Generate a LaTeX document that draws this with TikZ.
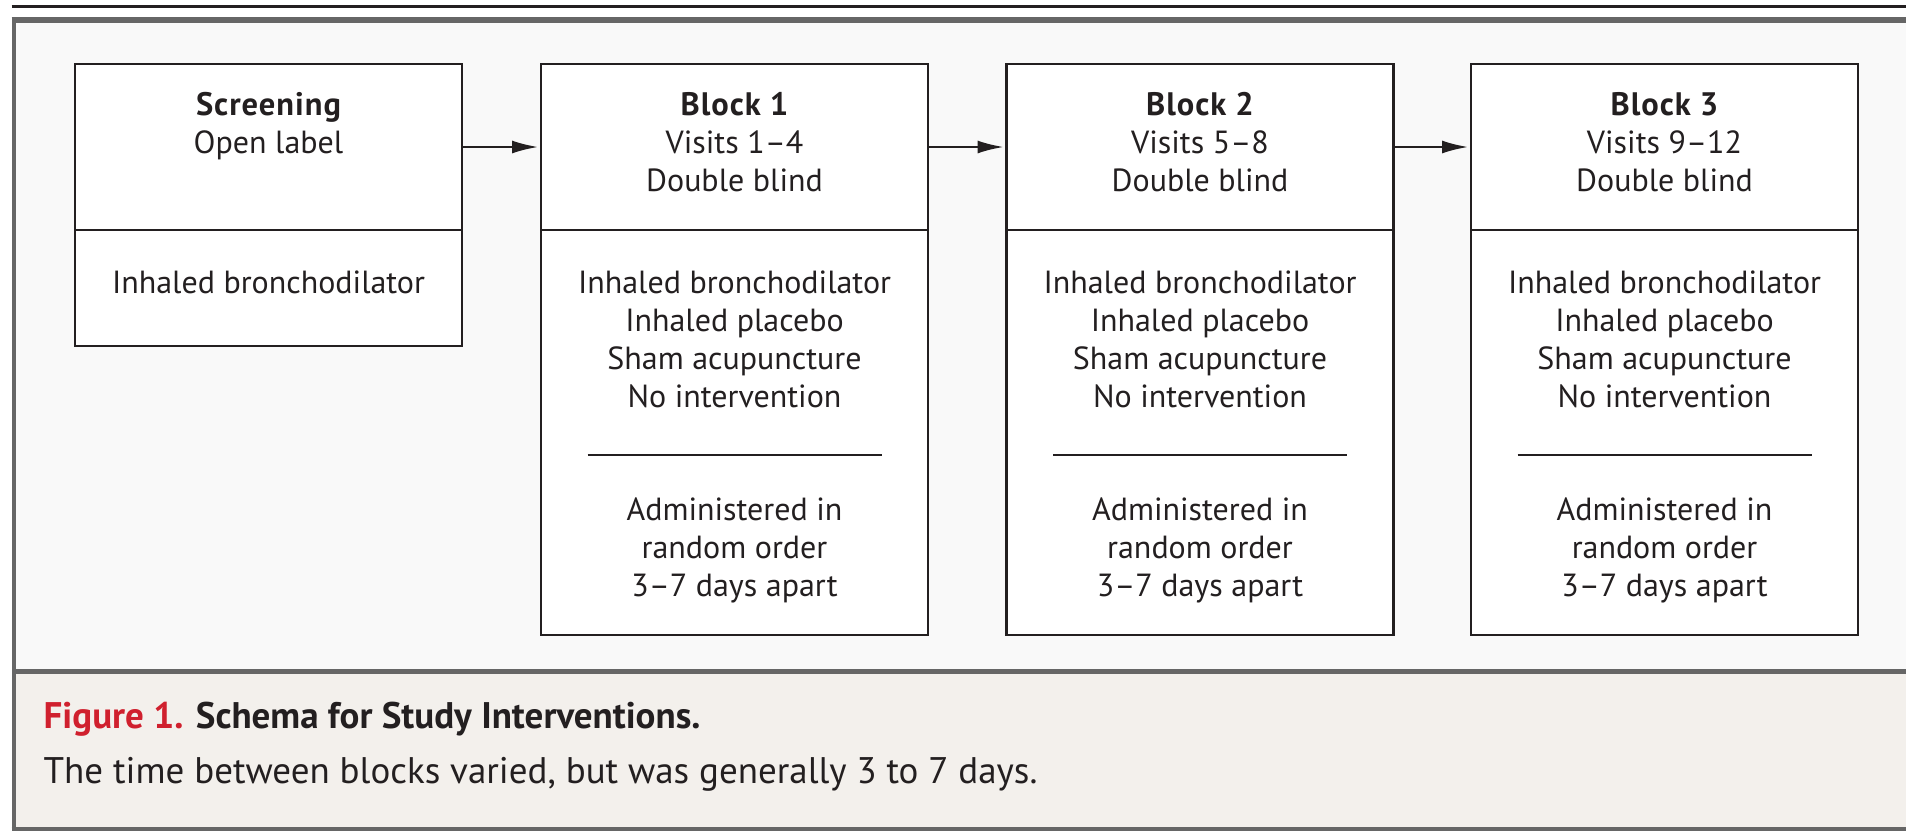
\documentclass[tikz,border=0pt]{standalone}
\usepackage{fontspec}
\setmainfont{PT Sans}
\usetikzlibrary{arrows.meta}
\definecolor{framegray}{HTML}{666666}
\definecolor{innerbg}{HTML}{F9F9F9}
\definecolor{capbg}{HTML}{F3F0EC}
\definecolor{txt}{HTML}{231F20}
\definecolor{nejmred}{HTML}{D0202E}
\begin{document}
\begin{tikzpicture}[x=1pt,y=-1pt,
  box/.style={draw=txt, line width=2.7pt, fill=white, minimum width=387pt,
    inner sep=0pt, outer sep=0pt, anchor=north west},
  boxline/.style={font=\fontsize{32}{38}\selectfont, text=txt, anchor=base, inner sep=0pt},
  titleline/.style={boxline, font=\fontsize{32.5}{38}\selectfont\bfseries\addfontfeature{LetterSpace=3}},
  sepline/.style={draw=txt, line width=2.7pt},
  flow/.style={draw=txt, line width=2pt, shorten >=3pt, -{Latex[length=26pt,width=13pt]}},
  frameline/.style={draw=framegray},
  capline/.style={font=\fontsize{37}{42}\selectfont, text=txt, anchor=base west, inner sep=0pt}]
\useasboundingbox (0,0) rectangle (1906,835);
% frame and backgrounds
\fill[innerbg] (14,20) rectangle (1906,671.5);
\fill[capbg] (14,671.5) rectangle (1906,829);
\draw[txt, line width=2.7pt] (11.7,6.7) -- (1906,6.7);
\draw[frameline, line width=5.3pt] (11.7,20) -- (1906,20);
\draw[frameline, line width=4.5pt] (14,671.5) -- (1906,671.5);
\draw[frameline, line width=4.3pt] (11.7,829) -- (1906,829);
\draw[frameline, line width=4.3pt] (14,17.3) -- (14,831.2);
% screening box
\node[box, minimum height=116pt] (scrBot) at (75,230) {};
\node[box, minimum height=166pt] (scrTop) at (75,64) {};
\node[titleline] (scrT1) at (268.5,115) {Screening};
\node[boxline] (scrT2) at (268.5,153) {Open label};
\node[boxline] (scrB1) at (268.5,293) {Inhaled bronchodilator};
% blocks
\foreach \n/\lx/\vis in {1/541/Visits 1--4, 2/1006.5/Visits 5--8, 3/1471/Visits 9--12}{
  \pgfmathsetmacro{\cx}{\lx+193.5}
  \node[box, minimum height=405pt] (b\n Bot) at (\lx,230) {};
  \node[box, minimum height=166pt] (b\n Top) at (\lx,64) {};
  \node[titleline] (b\n T1) at (\cx,115) {Block \n};
  \node[boxline] (b\n T2) at (\cx,153) {\vis};
  \node[boxline] (b\n T3) at (\cx,191) {Double blind};
  \node[boxline] (b\n B1) at (\cx,293) {Inhaled bronchodilator};
  \node[boxline] (b\n B2) at (\cx,331) {Inhaled placebo};
  \node[boxline] (b\n B3) at (\cx,369) {Sham acupuncture};
  \node[boxline] (b\n B4) at (\cx,407) {No intervention};
  \coordinate (b\n SL) at (\cx-147,455);
  \coordinate (b\n SR) at (\cx+147,455);
  \draw[sepline] (b\n SL) -- (b\n SR);
  \node[boxline] (b\n C1) at (\cx,520) {Administered in};
  \node[boxline] (b\n C2) at (\cx,558) {random order};
  \node[boxline] (b\n C3) at (\cx,596) {3--7 days apart};
}
% arrows
\draw[flow] (scrTop.east) -- (b1Top.west);
\draw[flow] (b1Top.east) -- (b2Top.west);
\draw[flow] (b2Top.east) -- (b3Top.west);
% caption
\node[capline, font=\fontsize{37}{42}\selectfont\bfseries] (cap1) at (43.5,728)
  {\textcolor{nejmred}{Figure 1.} Schema for Study Interventions.};
\node[capline] (cap2) at (43.5,783) {The time between blocks varied, but was generally 3 to 7 days.};
\end{tikzpicture}
\end{document}
